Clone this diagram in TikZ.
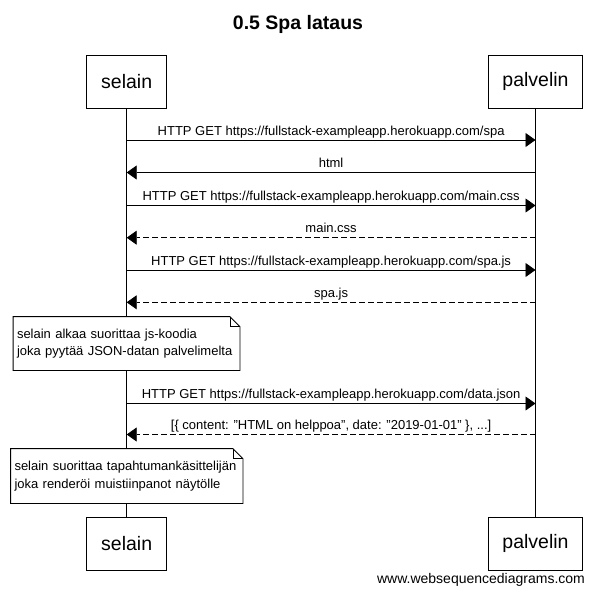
\documentclass[tikz,border=0pt]{standalone}
\usepackage{fontspec}
\setmainfont{Liberation Sans}
\usetikzlibrary{arrows.meta}
\newcommand{\msgfont}{\fontsize{13}{17.7}\selectfont\hyphenpenalty=10000}
\newcommand{\appurl}{https://fullstack-exampleapp.herokuapp.com}
\newcommand{\dq}{\symbol{34}}

\begin{document}
\begin{tikzpicture}[x=1pt,y=-1pt,line width=0.8pt,
    anode/.style={draw,fill=white,inner sep=0pt,minimum height=52.5pt,font=\fontsize{19.5}{22}\selectfont},
    nnode/.style={fill=white,inner xsep=3.5pt,inner ysep=0pt,align=left,font=\msgfont},
    msg/.style={-{Triangle[length=10pt,width=14pt]}},
    rsp/.style={msg,dash pattern=on 6pt off 3pt},
    lbl/.style={midway,anchor=base,yshift=5pt,font=\msgfont}]
    \useasboundingbox (0,0) rectangle (597,594);

    \node (title) at (298,30) [anchor=base,font=\fontsize{19.5}{22}\selectfont\bfseries] {0.5 Spa lataus};
    \node[anode,minimum width=80pt] (s) at (126.7,81.8) {selain};
    \node[anode,minimum width=94pt] (p) at (535.5,81.8) {palvelin};
    \node[anode,minimum width=80pt] (sb) at (126.7,543.8) {selain};
    \node[anode,minimum width=94pt] (pb) at (535.5,543.8) {palvelin};
    \node (wsd) at (481,583.5) [anchor=base,font=\fontsize{14}{16}\selectfont] {www.websequencediagrams.com};

    % lifelines
    \draw (s) -- (sb);
    \draw (p) -- (pb);

    \coordinate (s1) at (126.7,140);   \coordinate (p1) at (535.5,140);
    \coordinate (s2) at (126.7,172.5); \coordinate (p2) at (535.5,172.5);
    \coordinate (s3) at (126.7,205.5); \coordinate (p3) at (535.5,205.5);
    \coordinate (s4) at (126.7,237.7); \coordinate (p4) at (535.5,237.7);
    \coordinate (s5) at (126.7,270);   \coordinate (p5) at (535.5,270);
    \coordinate (s6) at (126.7,302.3); \coordinate (p6) at (535.5,302.3);
    \coordinate (s7) at (126.7,403.5); \coordinate (p7) at (535.5,403.5);
    \coordinate (s8) at (126.7,434.5); \coordinate (p8) at (535.5,434.5);

    \draw[msg] (s1) -- node[lbl] {HTTP GET \appurl/spa} (p1);
    \draw[msg] (p2) -- node[lbl] {html} (s2);
    \draw[msg] (s3) -- node[lbl] {HTTP GET \appurl/main.css} (p3);
    \draw[rsp] (p4) -- node[lbl] {main.css} (s4);
    \draw[msg] (s5) -- node[lbl] {HTTP GET \appurl/spa.js} (p5);
    \draw[rsp] (p6) -- node[lbl] {spa.js} (s6);
    \draw[msg] (s7) -- node[lbl] {HTTP GET \appurl/data.json} (p7);
    \draw[rsp] (p8) -- node[lbl] {[\{ content: \dq HTML on helppoa\dq, date: \dq 2019-01-01\dq{} \}, ...]} (s8);

    % notes
    \node[nnode,text width=219pt,minimum height=53pt] (n1) at (126.5,343.5) {selain alkaa suorittaa js-koodia\\joka pyytää JSON-datan palvelimelta};
    \draw (n1.south west) -- (n1.south east) -- ([yshift=-10pt]n1.north east) -- ([xshift=-10pt]n1.north east) -- (n1.north west) -- cycle;
    \draw ([xshift=-10pt]n1.north east) |- ([yshift=-10pt]n1.north east);

    \node[nnode,text width=224.5pt,minimum height=54pt] (n2) at (126.75,476) {selain suorittaa tapahtumankäsittelijän\\joka renderöi muistiinpanot näytölle};
    \draw (n2.south west) -- (n2.south east) -- ([yshift=-10pt]n2.north east) -- ([xshift=-10pt]n2.north east) -- (n2.north west) -- cycle;
    \draw ([xshift=-10pt]n2.north east) |- ([yshift=-10pt]n2.north east);
\end{tikzpicture}
\end{document}
